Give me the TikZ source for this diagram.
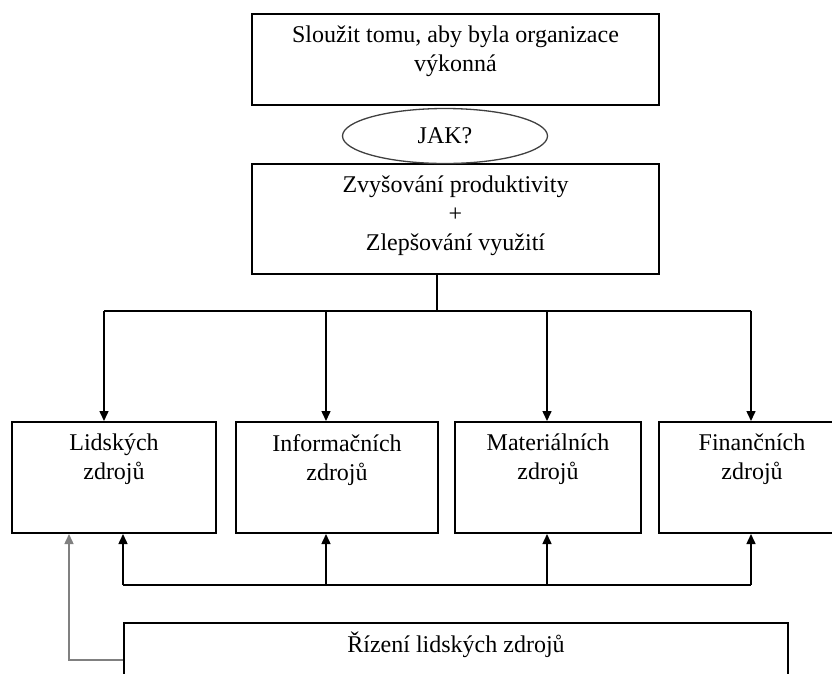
\documentclass[tikz,border=0pt]{standalone}
\usepackage{fontspec}
\setmainfont{Liberation Serif}
\usetikzlibrary{arrows.meta,shapes.geometric,positioning}
\tikzset{>={Triangle[length=10pt,width=9pt]}, % filled arrow heads
box/.style={draw, line width=2pt, inner sep=0pt, anchor=north west}, % every box is placed by its upper left corner
txt/.style={anchor=north, align=center, inner sep=0pt, yshift=-13pt}, % text hangs from the top of the box
line/.style={line width=1.5pt},
}

\begin{document}
\begin{tikzpicture}[x=1pt, y=-1pt, font=\fontsize{24}{29}\selectfont]
\clip (0,0) rectangle (832,673);
\node[box, minimum width=407, minimum height=91, label={[txt]north:Sloužit tomu, aby byla organizace\\výkonná}] (cil) at (251,13) {};
\node[box, minimum width=407, minimum height=110, label={[txt]north:Zvyšování produktivity\\+\\Zlepšování využití}] (zlepseni) at (251,163) {};
\node[ellipse, draw=black!75, fill=white, line width=1.3pt, minimum width=205, minimum height=55, inner sep=0pt] (jak) at (445,136) {JAK?};
\node[box, minimum width=204, minimum height=111, label={[txt]north:Lidských\\zdrojů}] (lidske) at (11,421) {};
\node[box, minimum width=202, minimum height=111, label={[txt]north:Informačních\\zdrojů}] (info) at (235,421) {};
\node[box, minimum width=186, minimum height=111, label={[txt]north:Materiálních\\zdrojů}] (mat) at (454,421) {};
\node[box, minimum width=186, minimum height=111, label={[txt]north:Finančních\\zdrojů}] (fin) at (658,421) {};
\node[box, minimum width=664, minimum height=74, label={[txt, text height=17pt]north:Řízení lidských zdrojů}] (rizeni) at (123,622) {};
% rozvetveni dolu
\coordinate (b0) at (437,311);
\coordinate (d1) at (104,311);
\coordinate (d2) at (326,311);
\coordinate (d3) at (547,311);
\coordinate (d4) at (751,311);
\draw[line] (b0 |- zlepseni.south) -- (b0);
\draw[line] (d1) -- (d4);
\draw[line,->] (d1) -- (d1 |- lidske.north);
\draw[line,->] (d2) -- (d2 |- info.north);
\draw[line,->] (d3) -- (d3 |- mat.north);
\draw[line,->] (d4) -- (d4 |- fin.north);
% zpetna vazba
\coordinate (u1) at (123,585);
\coordinate (u2) at (326,585);
\coordinate (u3) at (547,585);
\coordinate (u4) at (751,585);
\draw[line] (u1) -- (u4);
\draw[line,->] (u1) -- (u1 |- lidske.south);
\draw[line,->] (u2) -- (u2 |- info.south);
\draw[line,->] (u3) -- (u3 |- mat.south);
\draw[line,->] (u4) -- (u4 |- fin.south);
\draw[line,gray,->] (rizeni.west) -| ([xshift=-45pt]lidske.south);
\end{tikzpicture}
\end{document}
